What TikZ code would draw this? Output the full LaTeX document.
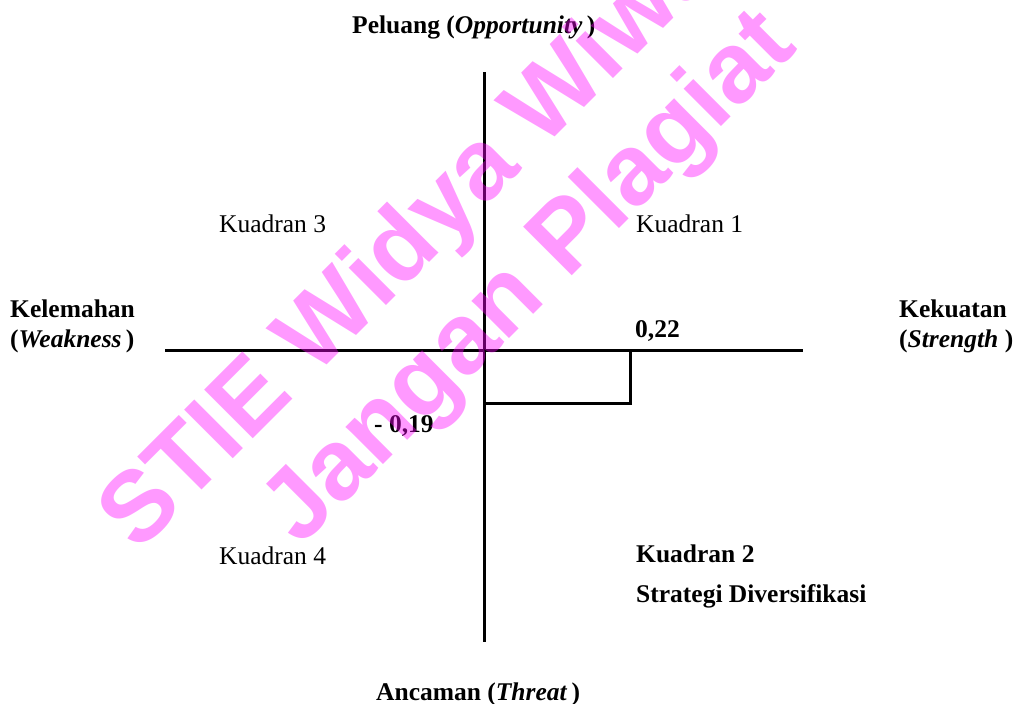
\documentclass[tikz,border=0pt]{standalone}
\usepackage{fontspec}
\usepackage{xcolor}
\setmainfont{Liberation Serif}
\newfontfamily\wmfont{Liberation Sans}
\definecolor{wmpink}{RGB}{255,0,255}

\tikzset{
  axis/.style={line width=3pt, black},
  kuad/.style={anchor=base west, inner sep=0pt, font={\fontsize{25.5}{30}\selectfont}},
  kuadb/.style={kuad, font={\bfseries\fontsize{25.5}{30}\selectfont}, align=left},
  wmark/.style={anchor=base west, inner sep=0pt, rotate=45, wmpink, opacity=0.4,
    font={\wmfont\bfseries\fontsize{100}{100}\selectfont}}
}

\begin{document}
\begin{tikzpicture}[x=1pt, y=-1pt]
\useasboundingbox (0,0) rectangle (1018,704);
% axes
\draw[axis] (484,72) -- (484,642);
\draw[axis] (165,350) -- (803,350);
\draw[axis] (484,403) -- (630,403) -- (630,350);
% labels
\node[kuadb] (peluang) at (352,34) {Peluang (\textit{Opportunity}\,)};
\node[kuad] (k3) at (219,232) {Kuadran 3};
\node[kuad] (k1) at (636,232) {Kuadran 1};
\node[kuadb] (lemah) at (10,347) {Kelemahan\\(\textit{Weakness}\,)};
\node[kuadb] (kuat) at (899,347) {Kekuatan\\(\textit{Strength} )};
\node[kuadb] (sx) at (635,337) {0,22};
\node[kuadb] (sy) at (374,432) {- 0,19};
\node[kuad] (k4) at (219,564) {Kuadran 4};
\node[kuadb] (k2) at (636,562) {Kuadran 2};
\node[kuadb] (strat) at (636,602) {Strategi Diversifikasi};
\node[kuadb] (ancam) at (376,700) {Ancaman (\textit{Threat}\,)};
% watermark
\begin{scope}
\clip (0,0) rectangle (1018,704);
\node[wmark] (wm1) at (138,554) {STIE Widya Wiwaha};
\node[wmark] (wm2) at (300,548) {Jangan Plagiat};
\end{scope}
\end{tikzpicture}
\end{document}
